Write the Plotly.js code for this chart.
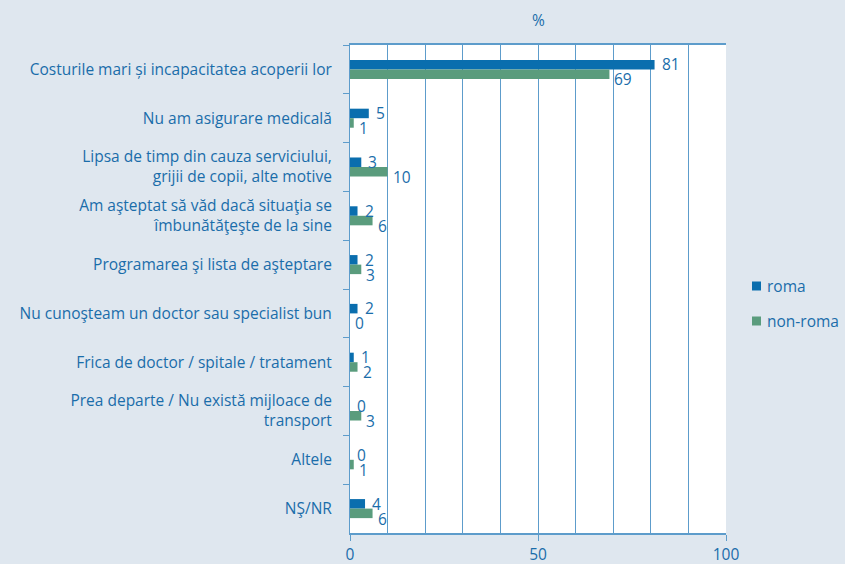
<!DOCTYPE html>
<html>
<head>
<meta charset="utf-8">
<script src="https://cdn.plot.ly/plotly-3.0.1.min.js"></script>
<style>html,body{margin:0;padding:0;background:#dfe7ef;}#chart{width:845px;height:564px;}</style>
</head>
<body>
<div id="chart"></div>
<script>
const categories = [
  "Costurile mari și incapacitatea acoperii lor",
  "Nu am asigurare medicală",
  "Lipsa de timp din cauza serviciului,<br>grijii de copii, alte motive",
  "Am aşteptat să văd dacă situaţia se<br>îmbunătăţeşte de la sine",
  "Programarea şi lista de aşteptare",
  "Nu cunoşteam un doctor sau specialist bun",
  "Frica de doctor / spitale / tratament",
  "Prea departe / Nu există mijloace de<br>transport",
  "Altele",
  "NŞ/NR"
];
const romaValues = [81, 5, 3, 2, 2, 2, 1, 0, 0, 4];
const nonRomaValues = [69, 1, 10, 6, 3, 0, 2, 3, 1, 6];
const seriesNames = ["roma", "non-roma"];
const xTicks = [0, 50, 100];

const textColor = "#1a6daa";
const romaColor = "#0a6eae";
const nonRomaColor = "#5a9c7d";
const lineColor = "#5d9ccb";
const fontFam = "'Open Sans', 'Noto Sans', sans-serif";
const fs = 15.5;

const traces = [
  {type: "bar", orientation: "h", name: seriesNames[0], y: categories, x: romaValues,
   marker: {color: romaColor}, hoverinfo: "x", showlegend: false},
  {type: "bar", orientation: "h", name: seriesNames[1], y: categories, x: nonRomaValues,
   marker: {color: nonRomaColor}, hoverinfo: "x", showlegend: false}
];

const annotations = [];
categories.forEach((c, i) => {
  annotations.push({x: romaValues[i], y: c, xref: "x", yref: "y", text: String(romaValues[i]),
    showarrow: false, xanchor: "left", yanchor: "middle", xshift: 5, yshift: 5,
    font: {family: fontFam, size: fs, color: textColor}});
  annotations.push({x: nonRomaValues[i], y: c, xref: "x", yref: "y", text: String(nonRomaValues[i]),
    showarrow: false, xanchor: "left", yanchor: "middle", xshift: 3, yshift: -10,
    font: {family: fontFam, size: fs, color: textColor}});
});
annotations.push({x: 0.5, y: 1, xref: "paper", yref: "paper", yanchor: "bottom", yshift: 12,
  text: "%", showarrow: false, font: {family: fontFam, size: fs, color: textColor}});

// manual legend (outside plot, right side)
const legendColors = [romaColor, nonRomaColor];
const legendY = [286, 321];
const shapes = [];
seriesNames.forEach((n, i) => {
  const yPaper = (533 - legendY[i]) / 488;
  annotations.push({x: (765 - 350) / 376, y: yPaper, xref: "paper", yref: "paper",
    xanchor: "left", yanchor: "middle", text: n, showarrow: false,
    font: {family: fontFam, size: fs, color: textColor}});
  shapes.push({type: "rect", xref: "paper", yref: "paper",
    x0: (752 - 350) / 376, x1: (761 - 350) / 376,
    y0: yPaper - 4.5 / 488, y1: yPaper + 4.5 / 488,
    fillcolor: legendColors[i], line: {width: 0}});
});

const layout = {
  width: 845, height: 564,
  paper_bgcolor: "#dfe7ef", plot_bgcolor: "#ffffff",
  margin: {l: 350, r: 119, t: 45, b: 31},
  barmode: "group", bargap: 0.61, bargroupgap: 0,
  font: {family: fontFam, size: fs, color: textColor},
  showlegend: false,
  xaxis: {range: [0, 100], tickvals: xTicks, ticktext: xTicks.map(String),
    showgrid: true, gridcolor: lineColor, gridwidth: 1,
    minor: {dtick: 10, tick0: 0, showgrid: true, gridcolor: lineColor, gridwidth: 1},
    showline: true, linecolor: lineColor, linewidth: 2, mirror: true,
    ticks: "outside", ticklen: 6, tickcolor: lineColor, zeroline: false,
    tickfont: {family: fontFam, size: fs, color: textColor}},
  yaxis: {autorange: "reversed", type: "category", tickson: "boundaries",
    ticks: "outside", ticklen: 6, tickcolor: lineColor,
    showline: true, linecolor: lineColor, linewidth: 1, showgrid: false,
    tickfont: {family: fontFam, size: fs, color: textColor}, ticklabelstandoff: 14},
  annotations: annotations,
  shapes: shapes
};

Plotly.newPlot("chart", traces, layout, {displayModeBar: false});
</script>
</body>
</html>
